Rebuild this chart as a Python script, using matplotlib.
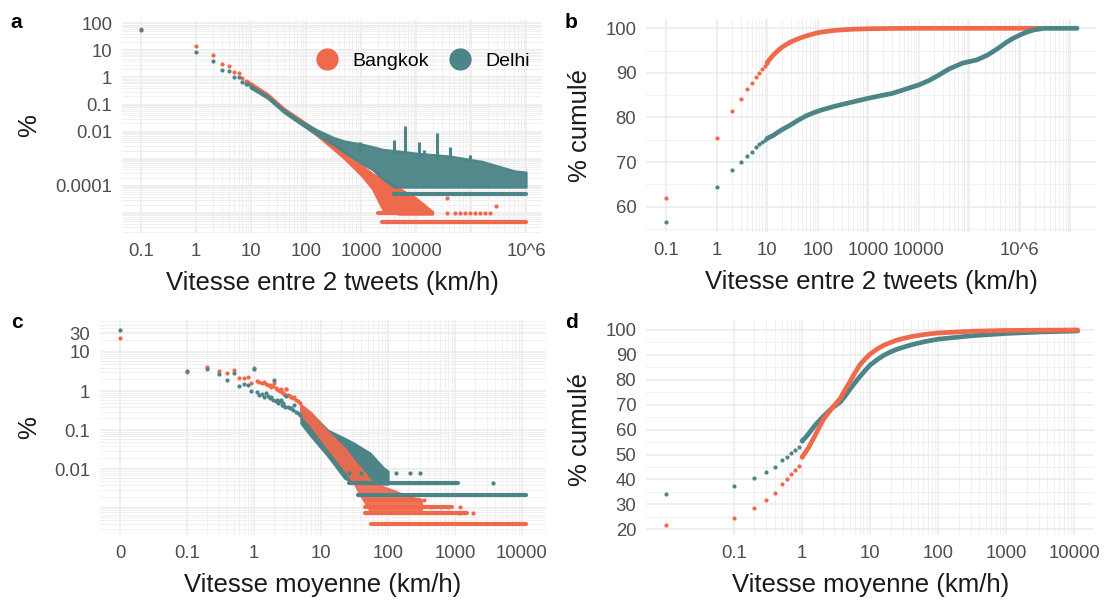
import matplotlib
matplotlib.use("Agg")
import matplotlib.pyplot as plt
from matplotlib.lines import Line2D
from matplotlib.ticker import FixedLocator, FixedFormatter

plt.rcParams['font.family'] = ['Liberation Sans', 'DejaVu Sans']

ORANGE = '#EF6A4D'
TEAL = '#4C8487'
W, H = 1106, 601

# ---------------- Panel a : speed between two tweets (%), log-log -------------
a_x_disc = [0.1, 1, 2, 3, 4, 5, 6, 7, 8, 9, 10]
a_bkk_disc = [62, 15, 7.0, 3.1, 2.6, 1.55, 1.5, 0.95, 0.75, 0.7, 0.58]
a_del_disc = [56.5, 8.5, 4.0, 1.9, 1.7, 1.05, 1.0, 0.66, 0.57, 0.55, 0.45]

a_bkk_cloud_x = [10, 20, 40, 80, 160, 320, 500, 1000, 1600, 2500, 3500, 5000, 10000, 16000, 20000]
a_bkk_cloud_lo = [0.50, 0.20, 0.058, 0.021, 0.0071, 0.0022, 0.0010, 2.5e-4, 7.9e-5, 1.3e-5,
                  1.0e-5, 9.0e-6, 9.0e-6, 9.0e-6, 9.0e-6]
a_bkk_cloud_hi = [0.62, 0.25, 0.072, 0.028, 0.0105, 0.0040, 0.0020, 6.0e-4, 2.8e-4, 1.8e-4,
                  1.3e-4, 7.9e-5, 3.5e-5, 1.6e-5, 1.1e-5]

a_del_cloud_x = [10, 20, 40, 80, 160, 320, 500, 1000, 1600, 2500, 4000, 10000, 40000, 160000, 630000, 1000000]
a_del_cloud_lo = [0.40, 0.17, 0.050, 0.019, 0.0075, 0.0032, 0.0017, 7.0e-4, 4.0e-4, 1.8e-4,
                  8.9e-5, 8.9e-5, 8.9e-5, 8.9e-5, 8.9e-5, 8.9e-5]
a_del_cloud_hi = [0.50, 0.21, 0.064, 0.025, 0.0115, 0.0060, 0.0045, 0.0035, 0.0028, 0.0022,
                  0.0020, 0.0016, 0.00126, 7.9e-4, 3.5e-4, 3.2e-4]

a_del_spike_x = [950, 3900, 6300, 11500, 14000, 24000, 42000, 95000]
a_del_spike_top = [0.0043, 0.0049, 0.0155, 0.0043, 0.0021, 0.0087, 0.0028, 0.0014]
a_del_spike_base = [0.002, 0.0015, 0.0015, 0.0012, 0.0012, 0.0010, 0.0010, 0.0008]

a_bkk_band_y = [4.4e-6, 9.5e-6]
a_bkk_band_x0 = [2400, 2000]
a_bkk_band_x1 = [1.0e6, 18000]
a_del_band_y = [4.9e-5]
a_del_band_x0 = [3900]
a_del_band_x1 = [1.0e6]

a_bkk_sparse_x = [36000, 51000, 63000, 78000, 95000, 118000, 145000, 178000, 224000, 36000, 280000]
a_bkk_sparse_y = [9.5e-6] * 9 + [3.5e-5, 1.8e-5]

# ---------------- Panel b : cumulative % -------------------------------------
b_x_disc = [0.1, 1, 2, 3, 4, 5, 6, 7, 8, 9, 10]
b_bkk_disc = [62.0, 75.5, 81.5, 84.2, 86.4, 87.8, 89.1, 90.0, 90.8, 91.6, 92.3]
b_del_disc = [56.5, 64.4, 68.2, 70.0, 71.4, 72.3, 73.3, 74.0, 74.4, 74.9, 75.3]

b_bkk_curve_x = [10, 11, 13, 16, 20, 25, 30, 40, 50, 60, 80, 100, 150, 200, 300, 500, 1000,
                 3000, 10000, 2.6e6]
b_bkk_curve_y = [92.3, 92.9, 93.9, 94.9, 95.8, 96.5, 97.0, 97.6, 98.0, 98.3, 98.7, 99.0, 99.3,
                 99.5, 99.65, 99.8, 99.9, 99.97, 100, 100]
b_del_curve_x = [10, 13, 16, 20, 28, 40, 60, 90, 130, 200, 275, 500, 1000, 2000, 3000, 5000,
                 10000, 16000, 24000, 40000, 74000, 1.4e5, 2.3e5, 3.8e5, 5.5e5, 7.2e5, 1e6,
                 1.4e6, 2e6, 3.1e6, 1.35e7]
b_del_curve_y = [75.3, 75.9, 76.6, 77.3, 78.2, 79.3, 80.4, 81.2, 81.8, 82.4, 82.8, 83.5, 84.3,
                 85.0, 85.4, 86.2, 87.3, 88.3, 89.4, 90.9, 92.2, 92.9, 94.0, 95.6, 96.9, 97.7,
                 98.5, 99.2, 99.7, 100, 100]

# ---------------- Panel c : mean speed (%), log-log ---------------------------
c_x_disc = [0.01, 0.1, 0.2, 0.3, 0.4, 0.5, 0.6, 0.7, 0.8, 0.9, 1.0]   # 0 drawn at 0.01
c_bkk_disc = [23, 3.1, 4.2, 3.3, 2.9, 3.5, 2.2, 2.2, 2.3, 1.65, 3.8]
c_del_disc = [36, 3.2, 3.6, 2.8, 1.9, 2.9, 1.35, 1.5, 1.45, 1.0, 3.6]

c_x_low = [1.1, 1.2, 1.3, 1.4, 1.5, 1.6, 1.7, 1.8, 1.9, 2.0, 2.1, 2.2, 2.3, 2.4, 2.5, 2.6, 2.7,
           2.8, 2.9, 3.0, 3.2, 3.4, 3.6, 3.8, 4.0, 4.2, 4.5, 4.8]
c_bkk_low = [1.8, 1.7, 1.6, 1.7, 1.5, 1.45, 1.4, 1.3, 1.35, 1.6, 1.2, 1.1, 1.05, 1.0, 1.1, 0.95,
             0.9, 0.85, 0.8, 1.1, 0.8, 0.75, 0.7, 0.65, 0.7, 0.6, 0.55, 0.5]
c_del_low = [0.95, 0.8, 0.85, 0.7, 0.9, 0.75, 0.65, 0.7, 0.6, 1.9, 0.55, 0.6, 0.5, 0.55, 0.6,
             0.45, 0.5, 0.42, 0.4, 0.75, 0.4, 0.36, 0.38, 0.33, 0.45, 0.3, 0.28, 0.25]

c_bkk_cloud_x = [5.0, 7.1, 12.6, 22.4, 30, 40, 56, 71, 126, 200, 316]
c_bkk_cloud_lo = [0.26, 0.13, 0.035, 0.010, 0.005, 0.002, 7.9e-4, 7.9e-4, 7.9e-4, 7.9e-4, 7.9e-4]
c_bkk_cloud_hi = [0.45, 0.28, 0.09, 0.035, 0.018, 0.010, 0.005, 0.004, 0.0028, 0.0020, 0.0017]

c_del_cloud_x = [5.0, 7.1, 12.6, 22.4, 30, 54, 85, 100]
c_del_cloud_lo = [0.15, 0.07, 0.022, 0.006, 0.0045, 0.0042, 0.0042, 0.0042]
c_del_cloud_hi = [0.42, 0.27, 0.10, 0.062, 0.048, 0.026, 0.011, 0.009]

c_bkk_band_y = [3.9e-4, 7.8e-4, 1.12e-3, 1.66e-3]
c_bkk_band_x0 = [56, 45, 45, 45]
c_bkk_band_x1 = [11700, 1500, 900, 300]
c_del_band_y = [2.24e-3, 4.5e-3]
c_del_band_x0 = [36, 26]
c_del_band_x1 = [11700, 1100]

c_bkk_sparse_x = [440, 620, 780, 1170, 1170, 1860, 270, 340, 3.0]
c_bkk_sparse_y = [1.12e-3, 1.12e-3, 1.12e-3, 1.12e-3, 7.8e-4, 7.8e-4, 1.66e-3, 1.66e-3, 1.1]
c_del_sparse_x = [3700, 26, 40, 60, 90, 130, 215, 300]
c_del_sparse_y = [4.5e-3, 8.1e-3, 8.1e-3, 8.1e-3, 8.1e-3, 8.1e-3, 8.1e-3, 7.9e-3]

# ---------------- Panel d : cumulative % ------------------------------------
d_x_disc = [0.01, 0.1, 0.2, 0.3, 0.4, 0.5, 0.6, 0.7, 0.8, 0.9, 1.0]
d_bkk_disc = [21.7, 24.6, 28.5, 31.7, 34.4, 38.2, 40.2, 42.2, 43.8, 45.5, 49.0]
d_del_disc = [34.3, 37.2, 40.6, 43.1, 45.1, 47.7, 49.0, 50.5, 51.8, 52.9, 55.5]

d_curve_x = [1.0, 1.1, 1.26, 1.58, 2.04, 2.75, 3.63, 4.3, 5.0, 6.0, 7.08, 8.5, 10, 12.6, 15.8,
             20, 25.1, 39.8, 63.1, 100, 316, 1000, 3162, 11220]
d_bkk_curve_y = [49.0, 50.5, 53, 58, 63.9, 68.6, 72.5, 76, 79, 82.8, 86, 88.4, 90.3, 92.3, 93.8,
                 95.0, 96.0, 97.3, 98.2, 98.8, 99.5, 99.8, 99.9, 100]
d_del_curve_y = [55.5, 56.5, 58.5, 62, 65.2, 68.6, 71.0, 73.5, 76, 78.8, 81.3, 83.8, 85.9, 88.0,
                 89.8, 91.2, 92.3, 94.0, 95.3, 96.3, 97.7, 98.6, 99.2, 99.6]

# ---------------------------------------------------------------------------
fig = plt.figure(figsize=(W / 100, H / 100), dpi=100)


def rect(x0, x1, y0, y1):
    return [x0 / W, 1 - y1 / H, (x1 - x0) / W, (y1 - y0) / H]


def ftext(x, y, s, **kw):
    fig.text(x / W, 1 - y / H, s, **kw)


TICK_COLOR = '#4D4D4D'
GRID_MAJ = '#EBEBEB'
GRID_MIN = '#EEEEEE'
DOT = 9


def style(ax, xmaj, xlab, xmin, ymaj, ylab, ymin):
    ax.set_facecolor('white')
    for s in ax.spines.values():
        s.set_visible(False)
    ax.xaxis.set_major_locator(FixedLocator(xmaj))
    ax.xaxis.set_major_formatter(FixedFormatter(xlab))
    ax.xaxis.set_minor_locator(FixedLocator(xmin))
    ax.yaxis.set_major_locator(FixedLocator(ymaj))
    ax.yaxis.set_major_formatter(FixedFormatter(ylab))
    ax.yaxis.set_minor_locator(FixedLocator(ymin))
    ax.tick_params(which='both', length=0, labelsize=13.3, labelcolor=TICK_COLOR)
    ax.tick_params(axis='x', pad=7)
    ax.tick_params(axis='y', pad=7)
    ax.grid(which='major', color=GRID_MAJ, lw=1.1)
    ax.grid(which='minor', color=GRID_MIN, lw=0.6)
    ax.set_axisbelow(True)


def logminor(e0, e1):
    return [k * 10.0 ** e for e in range(e0, e1) for k in range(2, 10)]


def cloud(ax, x, lo, hi, color, alpha=1.0, z=2):
    ax.fill_between(x, lo, hi, facecolor=color, edgecolor=color, lw=1.6,
                    alpha=alpha, zorder=z, joinstyle='round')


def bands(ax, ys, x0s, x1s, color, z=3):
    for y, a, b in zip(ys, x0s, x1s):
        ax.plot([a, b], [y, y], color=color, lw=3.0, solid_capstyle='round', zorder=z)


# ---- a ----
ax = fig.add_axes(rect(122, 542, 19.5, 233))
ax.set_xscale('log'); ax.set_yscale('log')
ax.set_xlim(0.0452, 1.95e6); ax.set_ylim(1.8e-6, 138)
style(ax, [0.1, 1, 10, 100, 1e3, 1e4, 1e5, 1e6], ['0.1', '1', '10', '100', '1000', '10000', '', '10^6'],
      logminor(0, 6), [1e-5, 1e-4, 1e-3, 1e-2, 0.1, 1, 10, 100],
      ['', '0.0001', '', '0.01', '0.1', '1', '10', '100'], logminor(-6, 2))
cloud(ax, a_bkk_cloud_x, a_bkk_cloud_lo, a_bkk_cloud_hi, ORANGE)
bands(ax, a_bkk_band_y, a_bkk_band_x0, a_bkk_band_x1, ORANGE)
ax.scatter(a_bkk_sparse_x, a_bkk_sparse_y, s=DOT, color=ORANGE, lw=0, zorder=3)
ax.scatter(a_x_disc, a_bkk_disc, s=DOT, color=ORANGE, lw=0, zorder=3)
cloud(ax, a_del_cloud_x, a_del_cloud_lo, a_del_cloud_hi, TEAL, alpha=0.95, z=4)
ax.vlines(a_del_spike_x, a_del_spike_base, a_del_spike_top, color=TEAL, lw=2.2, zorder=4)
bands(ax, a_del_band_y, a_del_band_x0, a_del_band_x1, TEAL, z=5)
ax.scatter(a_x_disc, a_del_disc, s=DOT, color=TEAL, lw=0, zorder=5)
handles = [Line2D([], [], marker='o', ls='', color=ORANGE, markersize=15),
           Line2D([], [], marker='o', ls='', color=TEAL, markersize=15)]
ax.legend(handles, ['Bangkok', 'Delhi'], ncol=2, frameon=False, fontsize=14,
          loc='center', bbox_to_anchor=(0.719, 0.804), handlelength=1.0,
          handletextpad=0.8, columnspacing=1.1, borderpad=0)

# ---- b ----
ax = fig.add_axes(rect(646, 1096, 18.5, 232))
ax.set_xscale('log')
ax.set_xlim(0.0403, 3.2e7); ax.set_ylim(54.3, 102.2)
style(ax, [0.1, 1, 10, 100, 1e3, 1e4, 1e5, 1e6, 1e7],
      ['0.1', '1', '10', '100', '1000', '10000', '', '10^6', ''], logminor(0, 7),
      [60, 70, 80, 90, 100], ['60', '70', '80', '90', '100'], [55, 65, 75, 85, 95])
ax.plot(b_bkk_curve_x, b_bkk_curve_y, color=ORANGE, lw=3.4, solid_capstyle='round', zorder=3)
ax.scatter(b_x_disc, b_bkk_disc, s=DOT, color=ORANGE, lw=0, zorder=3)
ax.plot(b_del_curve_x, b_del_curve_y, color=TEAL, lw=3.4, solid_capstyle='round', zorder=4)
ax.scatter(b_x_disc, b_del_disc, s=DOT, color=TEAL, lw=0, zorder=4)

# ---- c ----
ax = fig.add_axes(rect(100, 546, 320, 535))
ax.set_xscale('log'); ax.set_yscale('log')
ax.set_xlim(0.005, 22900); ax.set_ylim(2.1e-4, 65.5)
style(ax, [0.01, 0.1, 1, 10, 100, 1e3, 1e4], ['0', '0.1', '1', '10', '100', '1000', '10000'],
      logminor(-1, 4), [1e-3, 0.01, 0.1, 1, 10, 30], ['', '0.01', '0.1', '1', '10', '30'],
      logminor(-4, 2))
cloud(ax, c_del_cloud_x, c_del_cloud_lo, c_del_cloud_hi, TEAL, z=2)
cloud(ax, c_bkk_cloud_x, c_bkk_cloud_lo, c_bkk_cloud_hi, ORANGE, alpha=0.92, z=3)
bands(ax, c_bkk_band_y, c_bkk_band_x0, c_bkk_band_x1, ORANGE, z=3)
ax.scatter(c_bkk_sparse_x, c_bkk_sparse_y, s=DOT, color=ORANGE, lw=0, zorder=3)
ax.scatter(c_x_disc, c_bkk_disc, s=DOT, color=ORANGE, lw=0, zorder=3)
ax.scatter(c_x_low, c_bkk_low, s=DOT, color=ORANGE, lw=0, zorder=3)
bands(ax, c_del_band_y, c_del_band_x0, c_del_band_x1, TEAL, z=5)
ax.scatter(c_del_sparse_x, c_del_sparse_y, s=DOT, color=TEAL, lw=0, zorder=5)
ax.scatter(c_x_disc, c_del_disc, s=DOT, color=TEAL, lw=0, zorder=5)
ax.scatter(c_x_low, c_del_low, s=DOT, color=TEAL, lw=0, zorder=5)

# ---- d ----
ax = fig.add_axes(rect(646, 1094, 320, 535))
ax.set_xscale('log')
ax.set_xlim(0.0051, 19500); ax.set_ylim(17.7, 104.0)
style(ax, [0.1, 1, 10, 100, 1e3, 1e4], ['0.1', '1', '10', '100', '1000', '10000'],
      logminor(-1, 4), [20, 30, 40, 50, 60, 70, 80, 90, 100],
      ['20', '30', '40', '50', '60', '70', '80', '90', '100'], [25, 35, 45, 55, 65, 75, 85, 95])
ax.plot(d_curve_x, d_del_curve_y, color=TEAL, lw=3.4, solid_capstyle='round', zorder=3)
ax.scatter(d_x_disc, d_del_disc, s=DOT, color=TEAL, lw=0, zorder=3)
ax.plot(d_curve_x, d_bkk_curve_y, color=ORANGE, lw=3.4, solid_capstyle='round', zorder=4)
ax.scatter(d_x_disc, d_bkk_disc, s=DOT, color=ORANGE, lw=0, zorder=4)

# ---- titles and tags ----
TITLE = dict(fontsize=18.5, color='#1A1A1A', ha='center', va='center')
ftext(332, 283, 'Vitesse entre 2 tweets (km/h)', **TITLE)
ftext(871, 282, 'Vitesse entre 2 tweets (km/h)', **TITLE)
ftext(323, 585, 'Vitesse moyenne (km/h)', **TITLE)
ftext(871, 585, 'Vitesse moyenne (km/h)', **TITLE)
ftext(29, 126, '%', rotation=90, **TITLE)
ftext(29, 428, '%', rotation=90, **TITLE)
ftext(580, 126, '% cumulé', rotation=90, **TITLE)
ftext(580, 430, '% cumulé', rotation=90, **TITLE)
TAG = dict(fontsize=15, fontweight='bold', color='black', ha='center', va='center')
ftext(16, 22, 'a', **TAG)
ftext(571, 22, 'b', **TAG)
ftext(17, 323, 'c', **TAG)
ftext(571, 323, 'd', **TAG)

fig.savefig('out.png', dpi=100, facecolor='white')
